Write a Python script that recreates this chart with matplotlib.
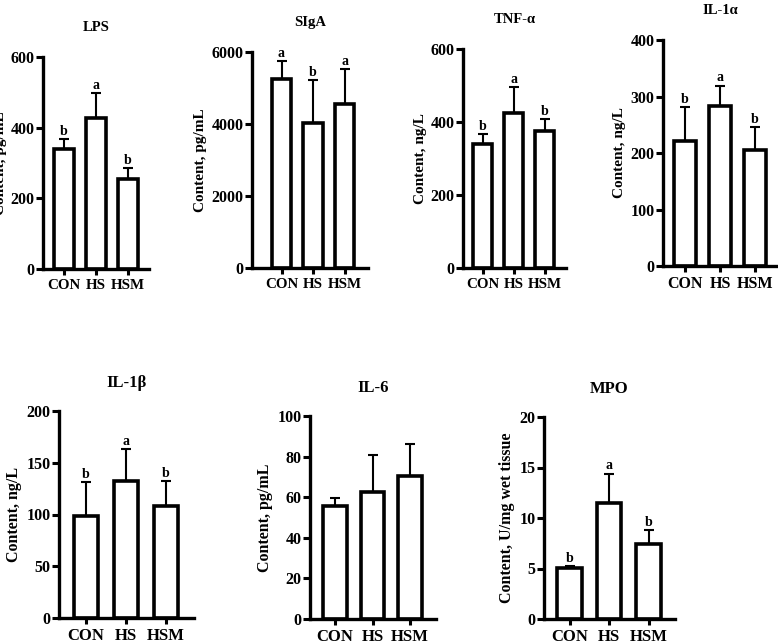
import numpy as np
import matplotlib
matplotlib.use("Agg")
from matplotlib import pyplot as plt

# data (mean and upper SD)
groups = ["CON", "HS", "HSM"]

lps_mean = [340, 427, 255]
lps_sd = [28, 71, 31]
lps_letters = ["b", "a", "b"]

siga_mean = [5250, 4030, 4560]
siga_sd = [500, 1190, 970]
siga_letters = ["a", "b", "a"]

tnf_mean = [340, 425, 375]
tnf_sd = [27, 71, 33]
tnf_letters = ["b", "a", "b"]

il1a_mean = [221, 283, 205]
il1a_sd = [60, 36, 41]
il1a_letters = ["b", "a", "b"]

il1b_mean = [99, 132, 108]
il1b_sd = [32, 31, 24]
il1b_letters = ["b", "a", "b"]

il6_mean = [55.7, 62.6, 70.4]
il6_sd = [3.9, 18.2, 15.8]
il6_letters = ["", "", ""]

mpo_mean = [5.05, 11.5, 7.4]
mpo_sd = [0.2, 2.9, 1.4]
mpo_letters = ["b", "a", "b"]

plt.rcParams["font.family"] = ["Liberation Serif", "DejaVu Serif"]
plt.rcParams["font.weight"] = "bold"

W, H = 778, 644
fig = plt.figure(figsize=(W / 100, H / 100), dpi=100)


def panel(box, centers, title, ylabel, mean, sd, letters, yticks, big=False):
    left, right, top, bottom = box
    ax = fig.add_axes([left / W, 1 - bottom / H, (right - left) / W, (bottom - top) / H])
    s = (centers[2] - centers[0]) / 2
    ax.set_xlim((left - centers[0]) / s, (right - centers[0]) / s)
    ax.set_ylim(0, yticks[-1])
    x = np.arange(len(groups))
    ax.bar(x, mean, width=0.62, color="white", edgecolor="black", linewidth=2.6, zorder=2)
    ax.errorbar(x, mean, yerr=[np.zeros(len(sd)), sd], fmt="none", ecolor="black",
                elinewidth=1.5, capsize=3.5, capthick=1.5, zorder=1)
    for xi, m, e, lab in zip(x, mean, sd, letters):
        if lab:
            ax.annotate(lab, (xi, m + e), xytext=(0, 1), textcoords="offset points",
                        ha="center", va="bottom", fontsize=10, fontweight="bold")
    ax.set_xticks(x)
    xfs = 12 if big else (11.5 if s > 33 else 10.8)
    ax.set_xticklabels(groups, fontsize=xfs, fontweight="bold")
    ax.set_yticks(yticks)
    ax.set_yticklabels([str(t) for t in yticks], fontsize=11.5, fontweight="bold")
    for side in ["top", "right"]:
        ax.spines[side].set_visible(False)
    for side in ["left", "bottom"]:
        ax.spines[side].set_linewidth(2.4)
    ax.tick_params(axis="y", length=5, width=2.2, pad=1)
    ax.tick_params(axis="x", length=4.5, width=2.2, pad=3)
    ax.set_title(title, fontsize=12 if big else 10.5, fontweight="bold", pad=17 if big else 19)
    ax.set_ylabel(ylabel, fontsize=11.5 if big else 11, fontweight="bold", labelpad=3)
    return ax


panel((43, 149, 57, 269), (64, 97, 128), "LPS", "Content, pg/mL",
      lps_mean, lps_sd, lps_letters, [0, 200, 400, 600])
panel((252, 368, 52, 268), (281.5, 313, 344.5), "SIgA", "Content, pg/mL",
      siga_mean, siga_sd, siga_letters, [0, 2000, 4000, 6000])
panel((463, 566, 49, 268), (482.5, 514, 544.5), "TNF-α", "Content, ng/L",
      tnf_mean, tnf_sd, tnf_letters, [0, 200, 400, 600])
panel((663, 778, 40, 266), (685, 720, 755), "IL-1α", "Content, ng/L",
      il1a_mean, il1a_sd, il1a_letters, [0, 100, 200, 300, 400])
panel((59, 194, 411, 618), (86, 126, 166), "IL-1β", "Content, ng/L",
      il1b_mean, il1b_sd, il1b_letters, [0, 50, 100, 150, 200], big=True)
panel((310, 436, 416, 619), (335, 372.5, 410), "IL-6", "Content, pg/mL",
      il6_mean, il6_sd, il6_letters, [0, 20, 40, 60, 80, 100], big=True)
panel((544, 675, 417, 619), (569.5, 609, 648.5), "MPO", "Content, U/mg wet tissue",
      mpo_mean, mpo_sd, mpo_letters, [0, 5, 10, 15, 20], big=True)

fig.savefig("out.png", dpi=100)
